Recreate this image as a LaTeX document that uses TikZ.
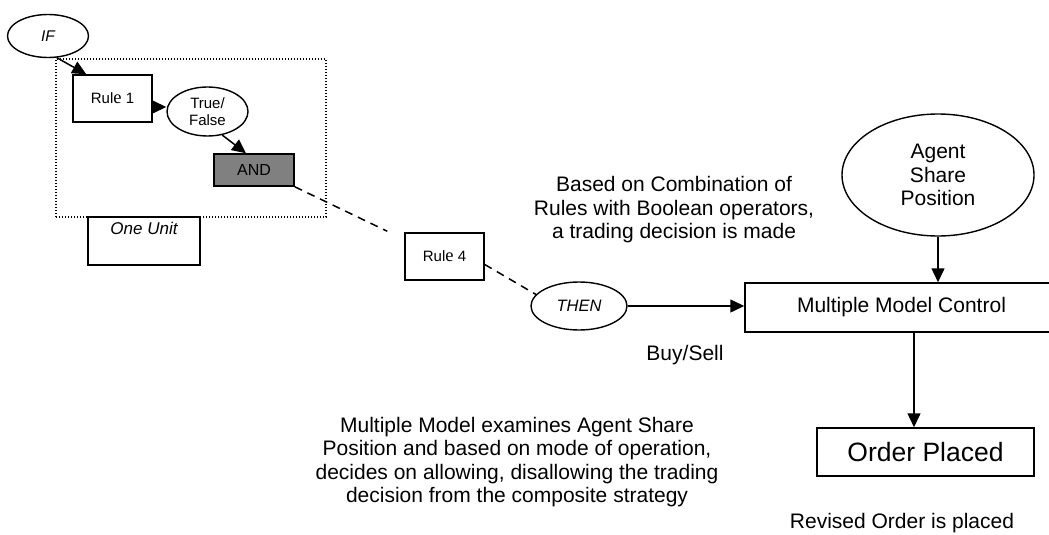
\documentclass[tikz,border=0pt]{standalone}
\usepackage{fontspec}
\setmainfont{Liberation Sans}
\newfontfamily\serife{Liberation Serif}
\usetikzlibrary{arrows.meta,shapes.geometric,calc}
\definecolor{andgray}{RGB}{128,128,128}
\newcommand{\rulee}{{\serife\fontsize{18.5}{17}\selectfont e}}
\tikzset{
  box/.style={draw, line width=1.5pt, rectangle, inner sep=0pt},
  oval/.style={draw, line width=1.4pt, ellipse, inner sep=0pt},
  small/.style={font=\fontsize{15}{17}\selectfont},
  big/.style={font=\fontsize{21}{23.5}\selectfont, align=center},
  arr/.style={line width=1.5pt, -{Triangle[length=14pt,width=13pt]}},
  dashline/.style={line width=1.5pt, dash pattern=on 8pt off 6pt},
  dotbox/.style={draw, line width=1.2pt, dash pattern=on 1.2pt off 1.8pt, rectangle, inner sep=0pt}
}
\begin{document}
\begin{tikzpicture}[x=1pt, y=-1pt]
\clip (0,0) rectangle (1049,535);

% composite rule unit
\node[dotbox, minimum width=270, minimum height=158] (unit) at (191,138) {};
\node[oval, minimum width=81, minimum height=43, font=\fontsize{15.5}{17}\selectfont\itshape] (if) at (48,36) {IF};
\node[box, small, minimum width=79, minimum height=47] (rule1) at (112.5,98.5) {Rul\rulee{} 1};
\node[oval, small, align=center, minimum width=81, minimum height=49] (tf) at (207.5,111.5) {True/\\False};
\node[box, fill=andgray, minimum width=80, minimum height=32, font=\fontsize{16}{18}\selectfont] (and) at (254,170) {AND};
\node[box, minimum width=112, minimum height=48] (unitbox) at (144,241) {};
\node[font=\fontsize{17}{19}\selectfont\itshape] (unitlabel) at (144,228) {One Unit};

% further rule and consequence
\node[box, small, minimum width=79, minimum height=47] (rule4) at (444.5,256.5) {Rul\rulee{} 4};
\node[oval, minimum width=96, minimum height=48, font=\fontsize{16.5}{18}\selectfont\itshape] (then) at (579,306) {THEN};

% model control side
\node[oval, big, minimum width=192, minimum height=122] (asp) at (938,175) {Agent\\Share\\Position};
\node[box, minimum width=313, minimum height=49, font=\fontsize{21}{23}\selectfont] (mmc) at (901.5,307.5) {Multiple Model Control};
\node[box, minimum width=217, minimum height=48, font=\fontsize{26.5}{28}\selectfont] (order) at (925.5,452) {Order Placed};
\coordinate (down) at (914,0);

% connectors
\draw[arr] (if.-68) -- ($(rule1.north west)+(14,0)$);
\draw[arr] (rule1.east |- 0,107) -- (tf.west |- 0,107);
\draw[arr] (tf.-58) -- ($(and.north)+(-8,0)$);
\draw[dashline] (and.south east) -- ($(rule4.north west)+(-17,-1)$);
\draw[dashline] ($(rule4.east)+(0,8)$) -- (then.165);
\draw[arr] (then.east) -- (then.east -| mmc.west);
\draw[arr] (asp.south) -- (asp.south |- mmc.north);
\draw[arr] (mmc.south -| down) -- (order.north -| down);

% annotations
\node[big] (combo) at (674,210) {Based on Combination of\\Rules with Boolean operators,\\a trading decision is made};
\node[big] (buysell) at (685,355) {Buy/Sell};
\node[big] (mmnote) at (517,462) {Multiple Model examines Agent Share\\Position and based on mode of operation,\\decides on allowing, disallowing the trading\\decision from the composite strategy};
\node[big] (revised) at (902,523) {Revised Order is placed};
\end{tikzpicture}
\end{document}
